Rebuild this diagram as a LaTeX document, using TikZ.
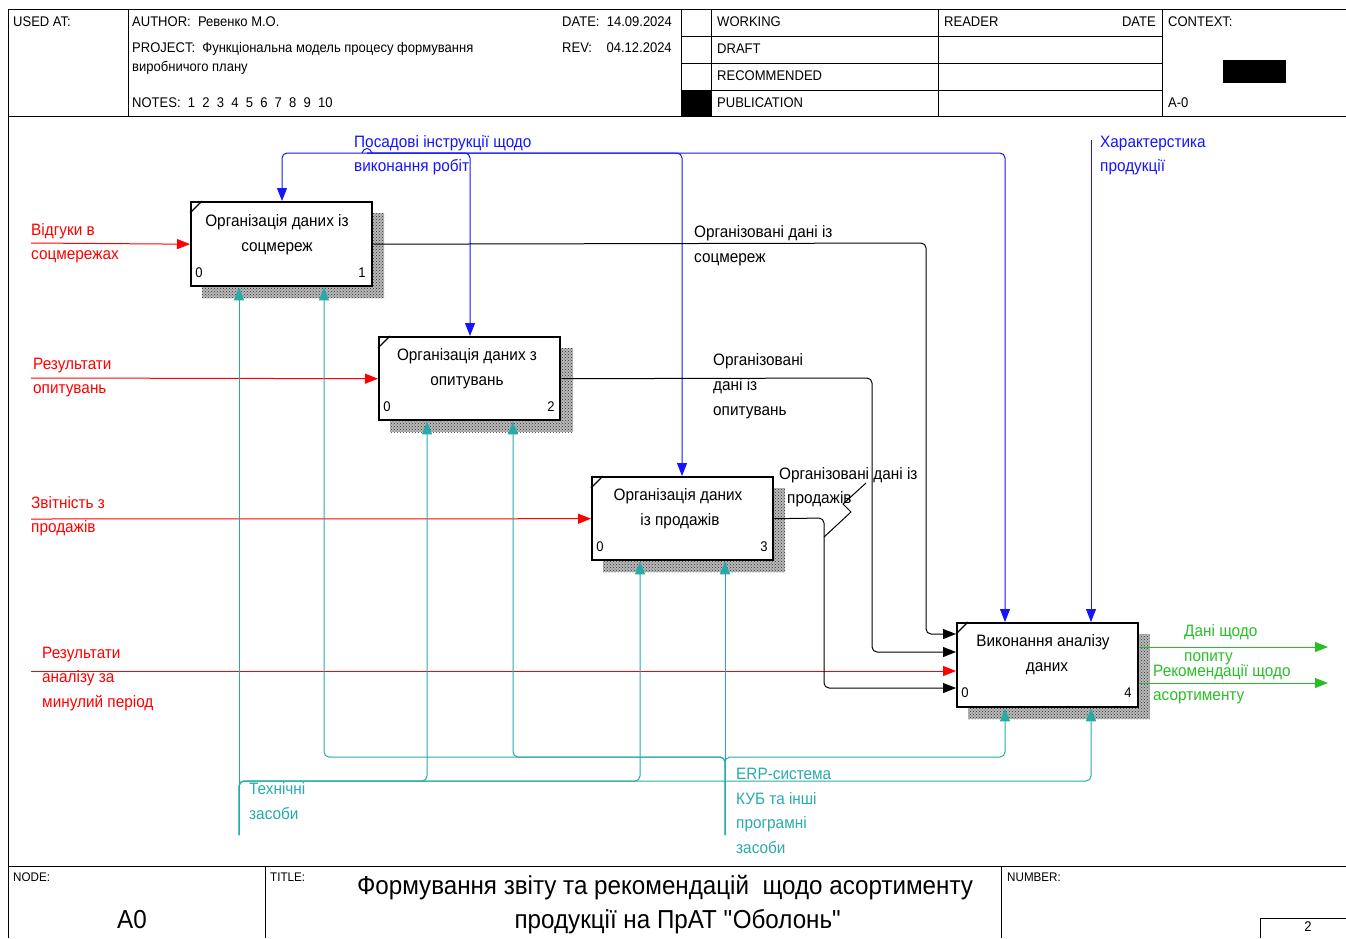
\documentclass[tikz,border=0pt]{standalone}
\usepackage{fontspec}
\setmainfont{Liberation Sans}[FakeStretch=0.93]
\usetikzlibrary{arrows.meta,patterns}
\definecolor{cred}{RGB}{255,0,0}
\definecolor{cblue}{RGB}{20,20,255}
\definecolor{cteal}{RGB}{40,170,170}
\definecolor{cgreen}{RGB}{40,190,40}
\begin{document}
\begin{tikzpicture}[x=1pt,y=-1pt,
  hdr/.style={anchor=mid west, inner sep=0pt, yshift=-2pt, font=\fontsize{14}{16}\selectfont},
  small/.style={anchor=mid west, inner sep=0pt, yshift=-2pt, font=\fontsize{12.5}{14}\selectfont},
  lbl/.style={anchor=mid west, inner sep=0pt, yshift=-2.5pt, font=\fontsize{16.5}{18}\selectfont},
  ctr/.style={anchor=mid, inner sep=0pt, yshift=-2.5pt, font=\fontsize{16.5}{18}\selectfont},
  big/.style={anchor=mid, inner sep=0pt, yshift=-6pt, font=\fontsize{26}{30}\selectfont},
  num/.style={anchor=mid, inner sep=0pt, yshift=-1pt, font=\fontsize{14}{16}\selectfont},
  frame/.style={line width=1pt, black},
  fbox/.style={draw, line width=2.4pt, fill=white, minimum width=181pt, minimum height=84pt, anchor=north west, inner sep=0pt},
  shadowbg/.style={fill=black!28},
  shadow/.style={pattern=crosshatch dots, pattern color=black!80},
  arr/.style={line width=1pt, -{Triangle[length=13pt,width=10pt]}, rounded corners=5pt},
]
\useasboundingbox (0,0) rectangle (1346,938);
% ---------- frame ----------
\draw[frame] (8,9) -- (1346,9);
\draw[frame] (8,116) -- (1346,116);
\draw[frame] (8,9) -- (8,938);
\foreach \x in {128,681,711,938,1162} \draw[frame] (\x,9) -- (\x,116);
\foreach \y in {36,63,90} \draw[frame] (681,\y) -- (1162,\y);
\fill[black] (681,90) rectangle (711,116);
\fill[black] (1223,60) rectangle (1286,83);
\draw[frame] (8,866) -- (1346,866);
\draw[frame] (265,866) -- (265,938);
\draw[frame] (1001,866) -- (1001,938);
\draw[frame] (1260,938) -- (1260,918) -- (1346,918);
% header texts
\node[hdr] (usedat) at (13,22) {USED AT:};
\node[hdr] (author) at (132,22) {AUTHOR:\ \ Ревенко М.О.};
\node[hdr] (date) at (562,22) {DATE:\ \ 14.09.2024};
\node[hdr] (proj1) at (132,48) {PROJECT:\ \ Функціональна модель процесу формування};
\node[hdr] (proj2) at (132,67) {виробничого плану};
\node[hdr] (rev) at (562,48) {REV:\ \ \ \ 04.12.2024};
\node[hdr] (notes) at (132,103) {NOTES:\ \ 1\ \ 2\ \ 3\ \ 4\ \ 5\ \ 6\ \ 7\ \ 8\ \ 9\ \ 10};
\node[hdr] (working) at (717,22) {WORKING};
\node[hdr] (draft) at (717,49) {DRAFT};
\node[hdr] (recom) at (717,76) {RECOMMENDED};
\node[hdr] (publ) at (717,103) {PUBLICATION};
\node[hdr] (reader) at (944,22) {READER};
\node[hdr, anchor=mid east] (rdate) at (1156,22) {DATE};
\node[hdr] (context) at (1168,22) {CONTEXT:};
\node[hdr] (azero) at (1168,103) {A-0};
% footer texts
\node[small] (nodelbl) at (13,877) {NODE:};
\node[big] (nodeval) at (132,920) {A0};
\node[small] (titlelbl) at (270,877) {TITLE:};
\node[big] (title1) at (665,886) {Формування звіту та рекомендацій\ \ щодо асортименту};
\node[big] (title2) at (678,920) {продукції на ПрАТ \textquotedbl Оболонь\textquotedbl};
\node[small] (numlbl) at (1007,877) {NUMBER:};
\node[num] (pagenum) at (1308,928) {2};
% ---------- boxes ----------
\foreach \a/\b/\c/\d in {202/213/384/298, 390/348/573/432, 603/488/785/572, 968/634/1150/719} {
  \fill[shadowbg] (\a,\b) rectangle (\c,\d);
  \fill[shadow] (\a,\b) rectangle (\c,\d);
}
\node[fbox] (b1) at (190,201) {};
\node[fbox, minimum height=83pt] (b2) at (378,336) {};
\node[fbox, minimum height=83pt] (b3) at (591,476) {};
\node[fbox] (b4) at (956,622) {};
\foreach \b in {b1,b2,b3,b4} \draw[line width=1.2pt] ([yshift=-12pt]\b.north west) -- ([xshift=12pt]\b.north west);
\node[ctr] (t1a) at (277,221) {Організація даних із};
\node[ctr] (t1b) at (277,246) {соцмереж};
\node[ctr] (t2a) at (467,355) {Організація даних з};
\node[ctr] (t2b) at (467,380) {опитувань};
\node[ctr] (t3a) at (678,495) {Організація даних};
\node[ctr] (t3b) at (680,520) {із продажів};
\node[ctr] (t4a) at (1043,641) {Виконання аналізу};
\node[ctr] (t4b) at (1047,666) {даних};
\node[num] (n1a) at (199,274) {0};
\node[num] (n1b) at (362,274) {1};
\node[num] (n2a) at (387,408) {0};
\node[num] (n2b) at (551,408) {2};
\node[num] (n3a) at (600,548) {0};
\node[num] (n3b) at (764,548) {3};
\node[num] (n4a) at (965,694) {0};
\node[num] (n4b) at (1128,694) {4};
% ---------- inputs (red) ----------
\coordinate (i1) at (31,243);
\coordinate (i2) at (31,378);
\coordinate (i3) at (31,519);
\coordinate (i4) at (31,671);
\draw[arr, cred] (i1) -- (b1.west);
\draw[arr, cred] (i2) -- (b2.west);
\draw[arr, cred] (i3) -- (b3.west);
\draw[arr, cred] (i4) -- (i4 -| b4.west);
\begin{scope}[every node/.style={lbl, text=cred}]
\node (li1a) at (31,230) {Відгуки в};
\node (li1b) at (31,254) {соцмережах};
\node (li2a) at (33,364) {Результати};
\node (li2b) at (33,388) {опитувань};
\node (li3a) at (31,503) {Звітність з};
\node (li3b) at (31,527) {продажів};
\node (li4a) at (42,653) {Результати};
\node (li4b) at (42,677) {аналізу за};
\node (li4c) at (42,702) {минулий період};
\end{scope}
% ---------- controls (blue) ----------
\coordinate (c1) at (367,153);
\draw[arr, cblue] (c1) -| (282,0 |- b1.north);
\draw[arr, cblue] (c1) -| (470,0 |- b2.north);
\draw[arr, cblue] (c1) -| (682,0 |- b3.north);
\draw[arr, cblue] (c1) -| (1005,0 |- b4.north);
\draw[line width=1pt, cblue] (362,153) .. controls (364,147) and (370,147) .. (372,153);
\coordinate (c2) at (1091,140);
\draw[arr, cblue] (c2) -- (1091,0 |- b4.north);
\begin{scope}[every node/.style={lbl, text=cblue}]
\node (lc1a) at (354,142) {Посадові інструкції щодо};
\node (lc1b) at (354,166) {виконання робіт};
\node (lc2a) at (1100,142) {Характерстика};
\node (lc2b) at (1100,166) {продукції};
\end{scope}
% ---------- internal outputs (black) ----------
\draw[arr] (b1.east) -- (926,243) -- (926,634) -- (956,634 -| b4.west);
\draw[arr] (b2.east) -- (872,378) -- (872,652) -- (956,652 -| b4.west);
\draw[arr] (b3.east) -- (824,518) -- (824,688) -- (956,688 -| b4.west);
\draw[line width=1pt] (824,537) -- (851,512) -- (843,504) -- (866,483);
\begin{scope}[every node/.style={lbl}]
\node (lo1a) at (694,232) {Організовані дані із};
\node (lo1b) at (694,257) {соцмереж};
\node (lo2a) at (713,360) {Організовані};
\node (lo2b) at (713,385) {дані із};
\node (lo2c) at (713,410) {опитувань};
\node (lo3a) at (779,474) {Організовані дані із};
\node (lo3b) at (787,498) {продажів};
\end{scope}
% ---------- outputs (green) ----------
\coordinate (o1) at (1328,647);
\coordinate (o2) at (1328,683);
\draw[arr, cgreen] (o1 -| b4.east) -- (o1);
\draw[arr, cgreen] (o2 -| b4.east) -- (o2);
\begin{scope}[every node/.style={lbl, text=cgreen}]
\node (lg1a) at (1184,631) {Дані щодо};
\node (lg1b) at (1184,656) {попиту};
\node (lg2a) at (1153,671) {Рекомендації щодо};
\node (lg2b) at (1153,695) {асортименту};
\end{scope}
% ---------- mechanisms (teal) ----------
\coordinate (m1) at (239,835);
\coordinate (m2) at (725,835);
\draw[arr, cteal] (m1) -- (239,0 |- b1.south);
\draw[arr, cteal] (m1) -- (239,781) -- (427,781) -- (427,0 |- b2.south);
\draw[arr, cteal] (m1) -- (239,781) -- (640,781) -- (640,0 |- b3.south);
\draw[arr, cteal] (m1) -- (239,781) -- (1091,781) -- (1091,0 |- b4.south);
\draw[arr, cteal] (m2) -- (725,0 |- b3.south);
\draw[arr, cteal] (m2) -- (725,757) -- (324,757) -- (324,0 |- b1.south);
\draw[arr, cteal] (m2) -- (725,757) -- (513,757) -- (513,0 |- b2.south);
\draw[arr, cteal] (m2) -- (725,757) -- (1005,757) -- (1005,0 |- b4.south);
\begin{scope}[every node/.style={lbl, text=cteal}]
\node (lm1a) at (249,789) {Технічні};
\node (lm1b) at (249,814) {засоби};
\node (lm2a) at (736,774) {ERP-система};
\node (lm2b) at (736,799) {КУБ та інші};
\node (lm2c) at (736,823) {програмні};
\node (lm2d) at (736,848) {засоби};
\end{scope}
\end{tikzpicture}
\end{document}
